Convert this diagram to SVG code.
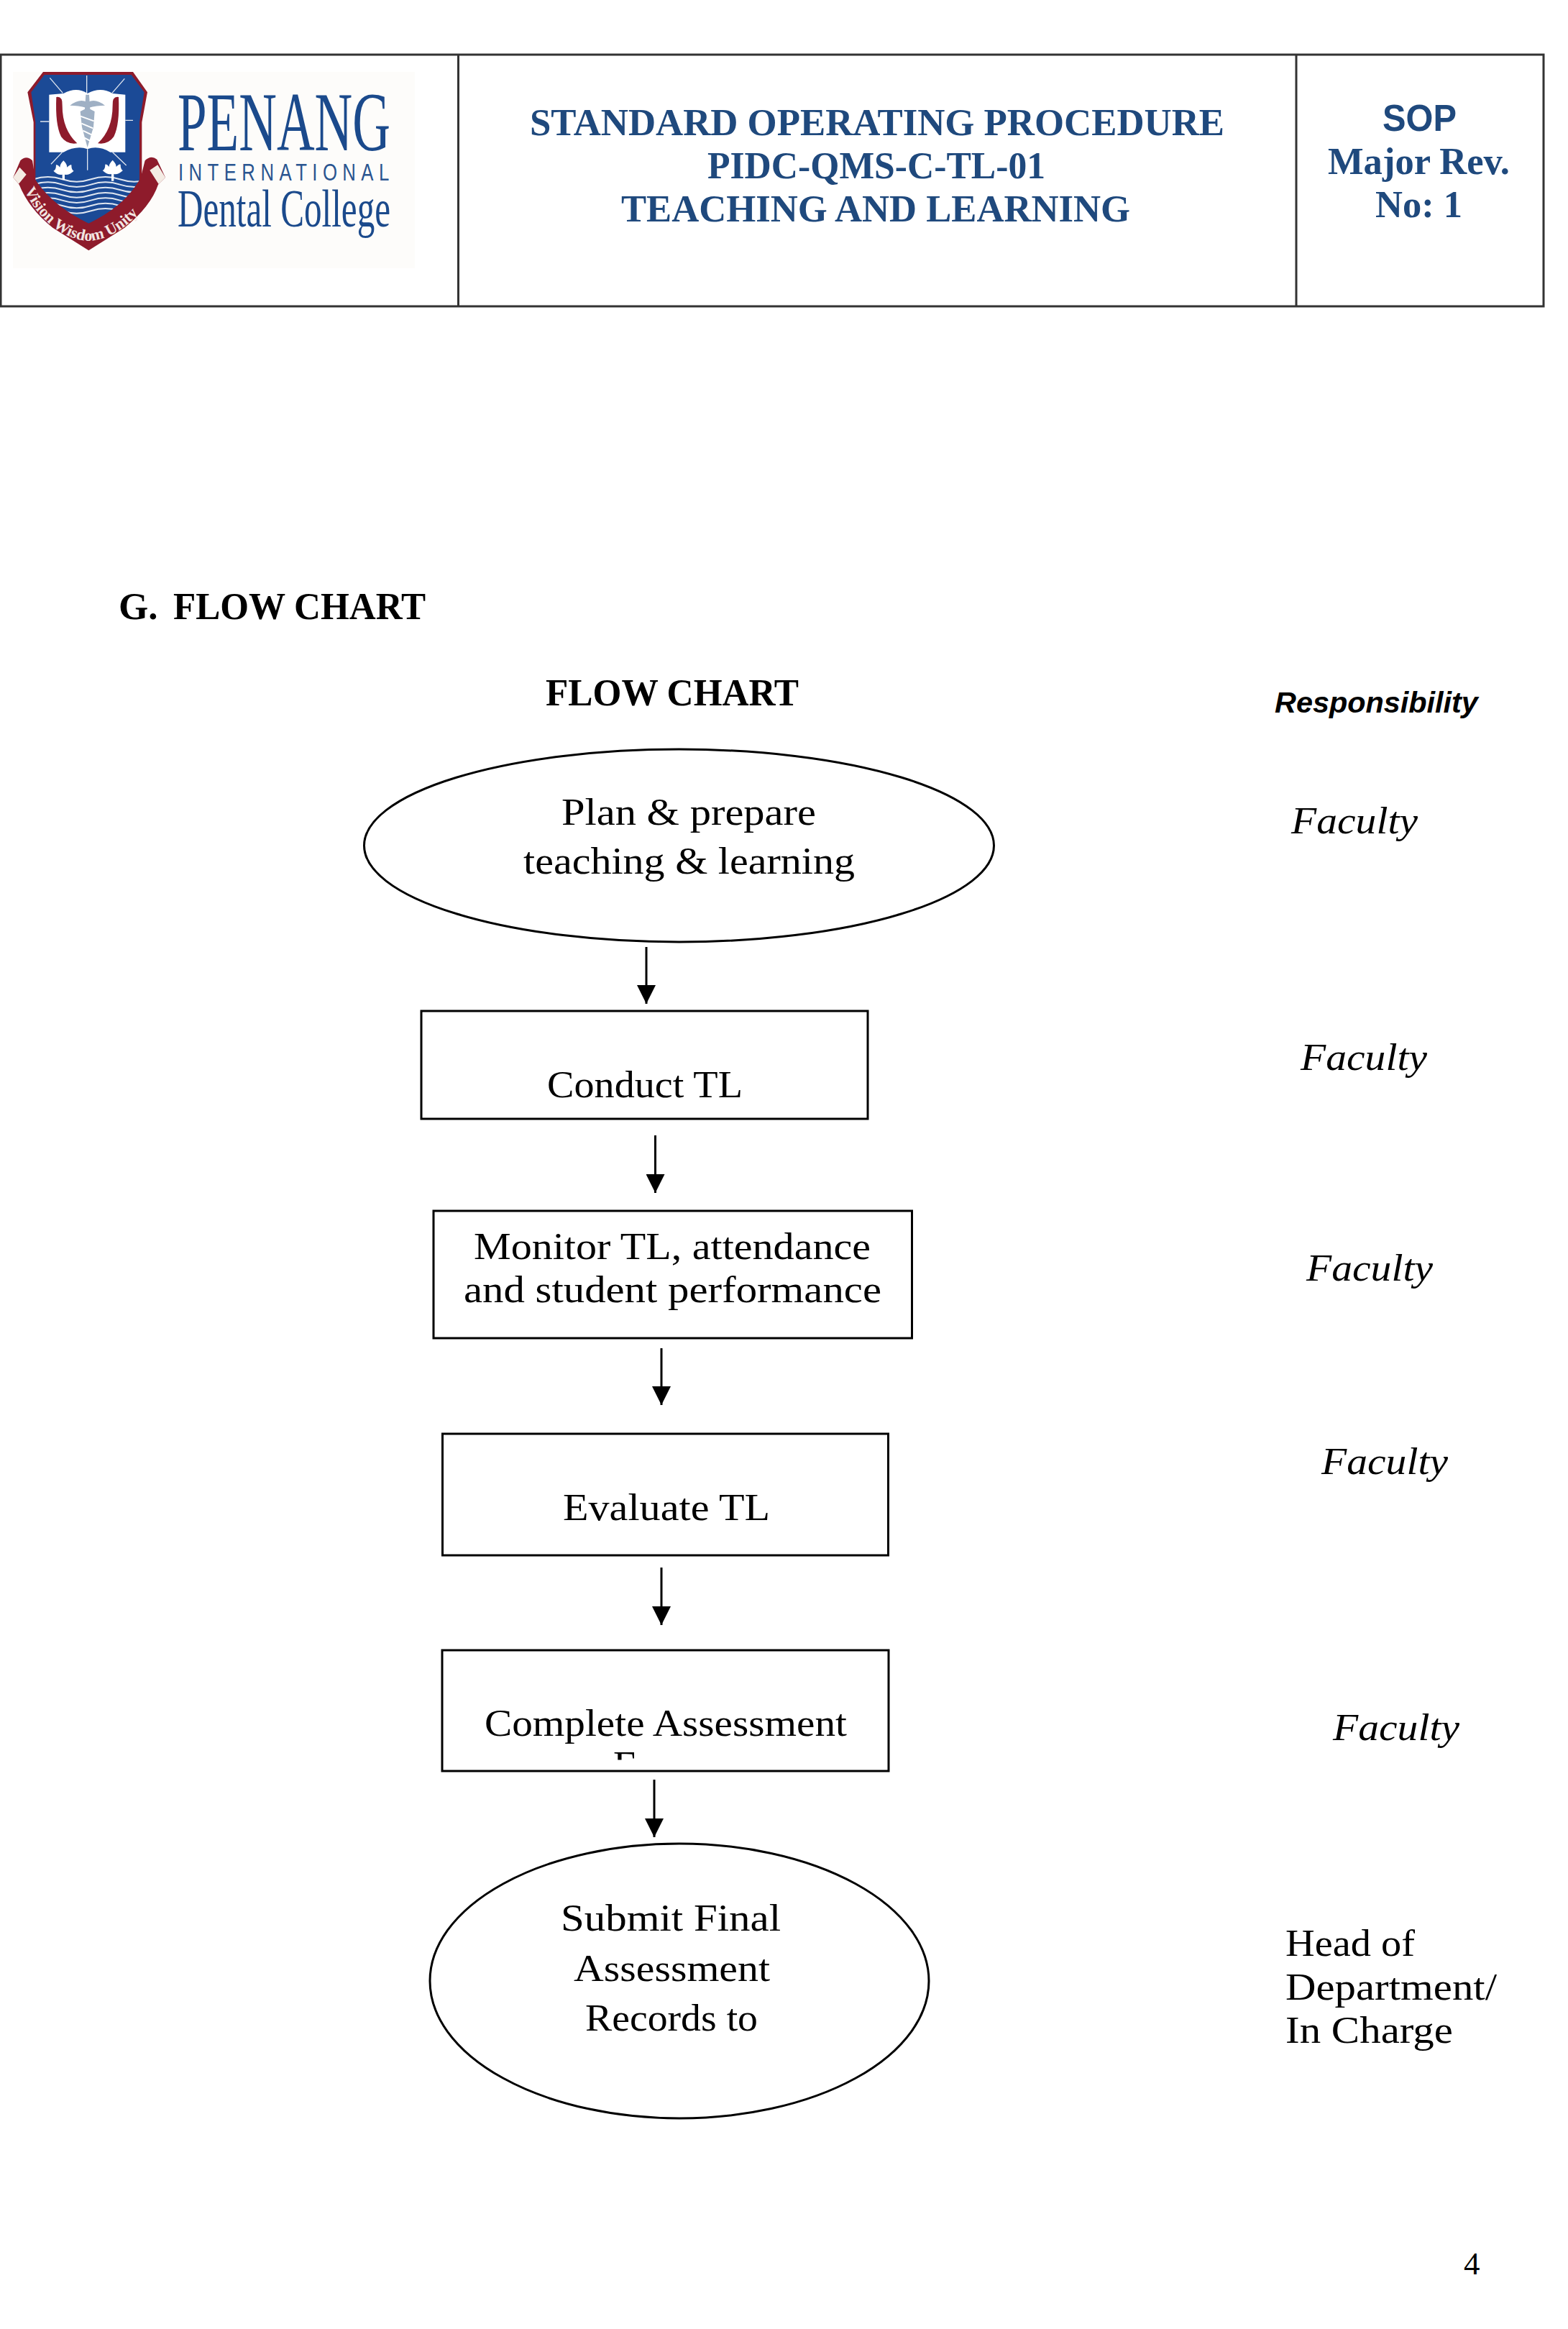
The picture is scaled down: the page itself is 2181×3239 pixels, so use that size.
<svg xmlns="http://www.w3.org/2000/svg" width="2181" height="3239" viewBox="0 0 2181 3239">
<style>
text{font-family:"Liberation Serif","Times New Roman",serif;fill:#000}
.b{font-size:53px}
.i{font-size:53px;font-style:italic}
.h{font-size:53px;font-weight:bold}
.t{font-size:52px;font-weight:bold;fill:#1F497D}
.n{fill:#fff;stroke:#000;stroke-width:3}
.tb{fill:none;stroke:#333;stroke-width:3}
.a{stroke:#000;stroke-width:3;fill:none;marker-end:url(#ah)}
.w{fill:none;stroke:#dfe6f0;stroke-width:6}
.r{stroke:#dfe6f0;stroke-width:4;fill:none}
</style>
<defs>
<marker id="ah" markerUnits="userSpaceOnUse" markerWidth="26" markerHeight="26" refX="26" refY="13" orient="auto" viewBox="0 0 26 26"><path d="M0 0L26 13L0 26Z" fill="#000"/></marker>
<clipPath id="shc"><path d="M155 42H518L572 115L552 240V480Q490 590 340 662Q190 590 118 480V240L100 115Z"/></clipPath>
<clipPath id="fc"><rect x="840" y="2430" width="60" height="17.500"/></clipPath>
<path id="motto" d="M66 505C105 615 215 728 340 735C465 728 575 615 618 505"/>
</defs>
<rect width="2181" height="3239" fill="#fff"/>
<g id="header">
<rect class="tb" x="1" y="76" width="2146" height="350"/>
<path class="tb" d="M637.500 76V426M1803 76V426"/>
<g id="logo">
<rect x="18" y="100" width="559" height="273" fill="#fdfcfa"/>
<g transform="translate(10,90) scale(.3333)">
<path fill="#8E1B2B" d="M55 400Q80 375 105 400L118 480H555L575 400Q600 375 625 395L660 470L630 500Q600 590 490 680L340 775L190 680Q90 600 50 500L25 470Z"/>
<path fill="#f4ece4" d="M25 470L52 428L80 458L48 497ZM595 440L628 418L660 470L632 498Z"/>
<path fill="#8E1B2B" d="M150 30H525L585 115L562 240V480H110V240L85 115Z"/>
<path fill="#1B4A96" d="M155 42H518L572 115L552 240V480Q490 590 340 662Q190 590 118 480V240L100 115Z"/>
<g clip-path="url(#shc)">
<path class="w" d="M110 478Q170 458 230 478T350 478T470 478T590 478M110 500Q170 480 230 500T350 500T470 500T590 500M110 522Q170 502 230 522T350 522T470 522T590 522M110 544Q170 524 230 544T350 544T470 544T590 544M110 566Q170 546 230 566T350 566T470 566T590 566M110 588Q170 568 230 588T350 588T470 588T590 588M110 610Q170 590 230 610T350 610T470 610T590 610"/>
</g>
<path class="r" d="M178 55L232 118M332 45V120M490 58L438 118M138 237H175M493 232H525M230 365L183 415M335 352V440M440 365L497 420"/>
<path fill="#fff" d="M175 125L235 120Q290 90 335 120Q390 90 440 120L493 125V365H430Q380 335 335 352Q290 335 235 365H175Z"/>
<path fill="#8E1B2B" d="M205 135Q232 130 230 170Q230 270 292 328Q250 335 225 300Q200 250 205 135Z"/>
<path fill="#8E1B2B" d="M465 135Q438 130 440 170Q440 270 378 328Q420 335 445 300Q470 250 465 135Z"/>
<g fill="#9fb0c4"><path d="M262 170Q300 140 332 155V180Q295 170 262 170ZM408 170Q370 140 338 155V180Q375 170 408 170Z"/><path d="M328 125H342L346 185L365 195L360 260L335 345L312 260L305 195L324 185Z"/></g>
<path d="M306 215L362 235M310 245L358 265M316 275L352 292M322 305L346 318" stroke="#fff" stroke-width="6" fill="none"/>
<path id="tree1" fill="#fff" d="M235 400Q250 415 250 428Q262 415 268 418Q268 440 278 443Q258 462 240 458V480H230V458Q212 462 193 443Q204 440 204 418Q212 415 220 428Q220 415 235 400Z"/>
<path id="tree2" fill="#fff" d="M440 398Q455 413 455 426Q467 413 473 416Q473 438 483 441Q463 460 445 456V485H435V456Q417 460 398 441Q409 438 409 416Q417 413 425 426Q425 413 440 398Z"/>
<text font-size="66" font-weight="bold" style="fill:#f2e6e2"><textPath href="#motto" startOffset="20">Vision Wisdom Unity</textPath></text>
</g>
<text x="247" y="209" font-size="116" textLength="296" lengthAdjust="spacingAndGlyphs" style="fill:#1B4A8C">PENANG</text>
<text transform="translate(248,250.500) scale(.78,1)" font-size="33" textLength="376" lengthAdjust="spacing" style="font-family:'Liberation Sans',sans-serif;fill:#2a5590">INTERNATIONAL</text>
<text x="247" y="315" font-size="75" textLength="296" lengthAdjust="spacingAndGlyphs" style="fill:#1B4A8C">Dental College</text>
</g>
<text class="t" x="737" y="188" textLength="966" lengthAdjust="spacingAndGlyphs">STANDARD OPERATING PROCEDURE</text>
<text class="t" x="984" y="248" textLength="470" lengthAdjust="spacingAndGlyphs">PIDC-QMS-C-TL-01</text>
<text class="t" x="864" y="308" textLength="708" lengthAdjust="spacingAndGlyphs">TEACHING AND LEARNING</text>
<text x="1923" y="182" font-size="51" font-weight="bold" textLength="103" lengthAdjust="spacingAndGlyphs" style="font-family:'Liberation Sans',sans-serif;fill:#1F497D">SOP</text>
<text class="t" x="1847" y="242" textLength="253" lengthAdjust="spacingAndGlyphs">Major Rev.</text>
<text class="t" x="1913" y="302" textLength="121" lengthAdjust="spacingAndGlyphs">No: 1</text>
</g>
<g id="headings">
<text class="h" x="165" y="861">G.</text>
<text class="h" x="241" y="861" textLength="351" lengthAdjust="spacingAndGlyphs">FLOW CHART</text>
<text class="h" x="759" y="981" textLength="352" lengthAdjust="spacingAndGlyphs">FLOW CHART</text>
<text x="1773" y="991" font-size="41.400" font-weight="bold" font-style="italic" style="font-family:'Liberation Sans',sans-serif">Responsibility</text>
</g>
<g id="connectors">
<path class="a" d="M899 1317V1396"/>
<path class="a" d="M911.500 1579V1659"/>
<path class="a" d="M920 1875V1954"/>
<path class="a" d="M920 2180V2260"/>
<path class="a" d="M910 2475V2555"/>
</g>
<g id="n1"><ellipse class="n" cx="944.500" cy="1176" rx="438" ry="134"/>
<text class="b" x="781" y="1147" textLength="354" lengthAdjust="spacingAndGlyphs">Plan &amp; prepare</text>
<text class="b" x="728" y="1215" textLength="461" lengthAdjust="spacingAndGlyphs">teaching &amp; learning</text></g>
<g id="n2"><rect class="n" x="586" y="1406" width="621" height="150"/>
<text class="b" x="761" y="1526" textLength="272" lengthAdjust="spacingAndGlyphs">Conduct TL</text></g>
<g id="n3"><rect class="n" x="603" y="1684" width="665.500" height="177"/>
<text class="b" x="659" y="1751" textLength="552" lengthAdjust="spacingAndGlyphs">Monitor TL, attendance</text>
<text class="b" x="645" y="1811" textLength="581" lengthAdjust="spacingAndGlyphs">and student performance</text></g>
<g id="n4"><rect class="n" x="615.500" y="1994" width="620" height="169"/>
<text class="b" x="783" y="2114" textLength="288" lengthAdjust="spacingAndGlyphs">Evaluate TL</text></g>
<g id="n5"><rect class="n" x="615" y="2295" width="621" height="168"/>
<text class="b" x="674" y="2414" textLength="504" lengthAdjust="spacingAndGlyphs">Complete Assessment</text>
<g clip-path="url(#fc)"><text class="b" x="853" y="2472" textLength="31" lengthAdjust="spacingAndGlyphs">F</text></g></g>
<g id="n6"><ellipse class="n" cx="945" cy="2755" rx="347" ry="191"/>
<text class="b" x="780" y="2685" textLength="306" lengthAdjust="spacingAndGlyphs">Submit Final</text>
<text class="b" x="798" y="2755" textLength="273" lengthAdjust="spacingAndGlyphs">Assessment</text>
<text class="b" x="814" y="2824" textLength="240" lengthAdjust="spacingAndGlyphs">Records to</text></g>
<g id="responsibility">
<text class="i" x="1796" y="1159" textLength="176" lengthAdjust="spacingAndGlyphs">Faculty</text>
<text class="i" x="1809" y="1488" textLength="176" lengthAdjust="spacingAndGlyphs">Faculty</text>
<text class="i" x="1817" y="1781" textLength="176" lengthAdjust="spacingAndGlyphs">Faculty</text>
<text class="i" x="1838" y="2050" textLength="176" lengthAdjust="spacingAndGlyphs">Faculty</text>
<text class="i" x="1854" y="2420" textLength="176" lengthAdjust="spacingAndGlyphs">Faculty</text>
<text class="b" x="1788" y="2720" textLength="180" lengthAdjust="spacingAndGlyphs">Head of</text>
<text class="b" x="1788" y="2781" textLength="294" lengthAdjust="spacingAndGlyphs">Department/</text>
<text class="b" x="1788" y="2841" textLength="233" lengthAdjust="spacingAndGlyphs">In Charge</text>
</g>
<text id="page" x="2036" y="3163" font-size="45">4</text>
</svg>
